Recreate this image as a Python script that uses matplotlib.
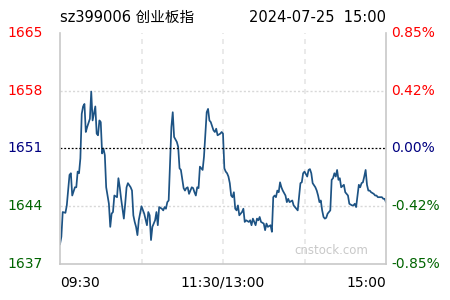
import matplotlib
matplotlib.use("Agg")
import matplotlib.pyplot as plt

# minute offsets from 09:30 (0..240, lunch break squeezed out) and index level
minutes = [0, 1, 2, 4, 5, 7, 8, 9, 11, 12, 13, 14, 15, 16, 17, 18, 19, 20, 22, 23,
           24, 26, 27, 28, 29, 30, 31, 32, 33, 34, 36, 37, 38, 39, 40, 42, 43, 44, 45, 47,
           48, 49, 50, 52, 53, 54, 55, 56, 57, 58, 60, 62, 64, 65, 66, 67, 68, 70, 71, 72,
           73, 75, 76, 77, 78, 79, 80, 81, 82, 83, 84, 86, 87, 88, 89, 91, 92, 93, 94, 95,
           97, 98, 99, 100, 101, 102, 103, 105, 106, 107, 108, 109, 110, 111, 113, 114, 115, 116, 118, 119,
           120, 121, 122, 123, 124, 125, 126, 127, 128, 129, 130, 131, 132, 134, 135, 136, 137, 139, 140, 141,
           142, 144, 145, 146, 147, 148, 150, 151, 152, 153, 155, 156, 157, 158, 159, 160, 161, 162, 163, 164,
           166, 167, 168, 169, 171, 172, 173, 174, 175, 177, 178, 179, 180, 182, 183, 184, 185, 186, 188, 189,
           190, 191, 192, 193, 194, 195, 196, 197, 199, 200, 201, 202, 203, 204, 205, 206, 207, 209, 210, 211,
           212, 213, 215, 216, 217, 218, 220, 221, 222, 223, 224, 225, 226, 227, 228, 229, 231, 232, 233, 234,
           236, 237, 238, 239, 240]
prices = [1639.4, 1640.3, 1643.3, 1643.2, 1644.1, 1647.8, 1648.0, 1645.3, 1646.3, 1646.3,
          1648.2, 1648.0, 1649.8, 1655.2, 1656.1, 1656.4, 1653.0, 1653.6, 1654.6, 1657.9,
          1654.4, 1656.1, 1652.8, 1652.6, 1654.4, 1654.2, 1650.4, 1651.0, 1650.2, 1646.3,
          1644.3, 1641.5, 1643.1, 1643.3, 1645.3, 1645.1, 1647.4, 1646.3, 1644.9, 1642.5,
          1644.3, 1646.3, 1646.8, 1646.3, 1645.9, 1642.9, 1642.1, 1641.5, 1640.5, 1642.3,
          1644.0, 1643.1, 1641.7, 1643.3, 1642.9, 1639.9, 1641.5, 1642.3, 1643.3, 1641.7,
          1643.9, 1643.7, 1643.5, 1643.9, 1643.7, 1644.5, 1644.7, 1649.2, 1653.6, 1655.4,
          1652.4, 1651.8, 1651.2, 1648.6, 1648.4, 1646.2, 1645.9, 1646.2, 1646.3, 1645.5,
          1646.3, 1646.2, 1645.7, 1645.3, 1646.3, 1646.2, 1648.8, 1648.4, 1650.0, 1652.8,
          1655.4, 1655.8, 1654.4, 1654.2, 1653.2, 1653.0, 1653.4, 1652.6, 1652.8, 1653.0,
          1652.8, 1648.6, 1648.2, 1648.0, 1647.6, 1646.8, 1645.3, 1645.1, 1645.7, 1643.7,
          1643.5, 1644.1, 1642.9, 1643.3, 1643.7, 1642.1, 1642.3, 1642.1, 1642.3, 1641.7,
          1642.5, 1641.7, 1642.5, 1642.3, 1642.7, 1642.1, 1641.9, 1641.1, 1641.9, 1641.5,
          1641.7, 1640.9, 1645.1, 1645.3, 1645.1, 1645.9, 1645.7, 1646.9, 1646.3, 1645.9,
          1645.3, 1644.5, 1644.9, 1644.5, 1644.7, 1644.1, 1643.9, 1643.7, 1643.5, 1646.8,
          1646.9, 1648.0, 1648.2, 1647.6, 1648.4, 1648.5, 1648.0, 1646.8, 1646.3, 1645.9,
          1645.3, 1644.5, 1644.7, 1643.5, 1642.7, 1642.5, 1642.6, 1643.1, 1643.5, 1647.2,
          1647.4, 1648.0, 1647.6, 1648.4, 1647.2, 1647.4, 1646.3, 1646.6, 1645.7, 1645.5,
          1645.3, 1644.3, 1644.1, 1644.1, 1644.3, 1643.9, 1646.6, 1646.3, 1646.8, 1646.9,
          1647.6, 1648.4, 1646.6, 1645.9, 1645.9, 1645.7, 1645.5, 1645.3, 1645.3, 1645.1,
          1645.1, 1645.1, 1644.9, 1644.9, 1644.5]

prev_close = 1651
left_ticks = [1637, 1644, 1651, 1658, 1665]
right_labels = ["-0.85%", "-0.42%", "0.00%", "0.42%", "0.85%"]
tick_colors = ["#006400", "#006400", "#000080", "#ff0000", "#ff0000"]
time_labels = ["09:30", "11:30/13:00", "15:00"]

font = ["DejaVu Sans", "Noto Sans CJK SC"]
plt.rcParams["font.family"] = font

fig = plt.figure(figsize=(4.5, 3), dpi=100)
ax = fig.add_axes([60 / 450, 36 / 300, 326 / 450, 231 / 300])

ax.plot(minutes, prices, color="#1d5384", linewidth=1.25)

ax.set_xlim(0, 240)
ax.set_ylim(left_ticks[0], left_ticks[-1])

# grid
for m in [60, 120, 180]:
    ax.axvline(m, color="#e6e6e6", linestyle=(0, (3, 3)), linewidth=1.2, zorder=0)
for v in [1644, 1658]:
    ax.axhline(v, color="#d8d8d8", linestyle=(0, (1.5, 1.5)), linewidth=1, zorder=0)
ax.axhline(prev_close, color="black", linestyle=(0, (1.5, 1.5)), linewidth=0.9)

for side in ["left", "right", "bottom"]:
    ax.spines[side].set_color("#c8c8c8")
    ax.spines[side].set_linewidth(1.2)
ax.spines["top"].set_visible(False)

ax.set_xticks([])
ax.set_yticks([])

# price labels left, percent labels right
for v, lab, c in zip(left_ticks, right_labels, tick_colors):
    ax.annotate(str(v), xy=(0, v), xycoords=("axes fraction", "data"),
                xytext=(-17, 0), textcoords="offset pixels",
                ha="right", va="center", fontsize=10, color=c)
    ax.annotate(lab, xy=(1, v), xycoords=("axes fraction", "data"),
                xytext=(5, 0), textcoords="offset pixels",
                ha="left", va="center", fontsize=10, color=c)

# time labels
ax.text(0, -0.05, time_labels[0], transform=ax.transAxes, ha="left", va="top", fontsize=10)
ax.text(0.5, -0.05, time_labels[1], transform=ax.transAxes, ha="center", va="top", fontsize=10)
ax.text(1, -0.05, time_labels[2], transform=ax.transAxes, ha="right", va="top", fontsize=10)

# header
fig.text(60 / 450, 1 - 17 / 300, "sz399006 创业板指", ha="left", va="center", fontsize=10.5)
fig.text(386 / 450, 1 - 17 / 300, "2024-07-25  15:00", ha="right", va="center", fontsize=10.5)

ax.text(0.945, 0.06, "cnstock.com", transform=ax.transAxes, ha="right", va="center",
        fontsize=8.5, color="#c8c8c8")

fig.savefig("out.png", dpi=100)
